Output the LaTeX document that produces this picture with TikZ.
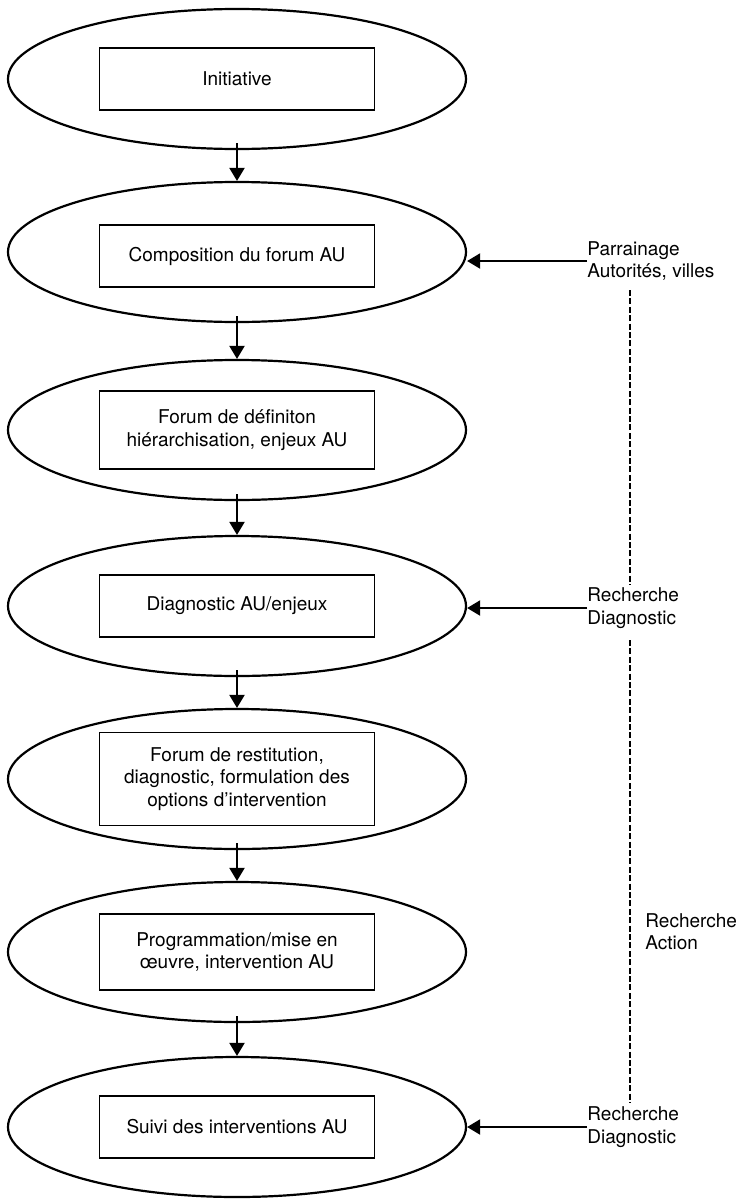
\documentclass[tikz,border=0pt]{standalone}
\usepackage{fontspec}
\setmainfont{TeX Gyre Heros}
\usetikzlibrary{shapes.geometric,arrows.meta}
\begin{document}
\begin{tikzpicture}[x=0.5pt,y=-0.5pt,
  font=\fontsize{9.5}{11.2}\selectfont,
  etape/.style={ellipse,draw,line width=1.1pt,minimum width=229pt,minimum height=70pt,inner sep=0pt},
  cadre/.style={rectangle,draw,line width=0.8pt,minimum width=137.5pt,minimum height=31pt,align=center},
  fleche/.style={line width=1pt,-{Triangle[length=6.5pt,width=7.5pt]}},
  appui/.style={anchor=west,align=left,inner sep=0pt},
  tirets/.style={line width=0.9pt,dash pattern=on 3pt off 1.2pt}]
  \useasboundingbox (0,0) rectangle (740,1199);
  % les etapes
  \node[etape] (e1) at (237,79) {};
  \node[etape] (e2) at (237,252) {};
  \node[etape] (e3) at (237,430) {};
  \node[etape] (e4) at (237,606) {};
  \node[etape] (e5) at (237,779) {};
  \node[etape] (e6) at (237,952) {};
  \node[etape] (e7) at (237,1127) {};
  \node[cadre] (c1) at (e1) {Initiative};
  \node[cadre] (c2) at ([yshift=-2pt]e2) {Composition du forum AU};
  \node[cadre,minimum height=39pt] (c3) at (e3) {Forum de définiton\\hiérarchisation, enjeux AU};
  \node[cadre] (c4) at (e4) {Diagnostic AU/enjeux};
  \node[cadre,minimum height=46.5pt] (c5) at (e5) {Forum de restitution,\\diagnostic, formulation des\\options d’intervention};
  \node[cadre,minimum height=38pt] (c6) at (e6) {Programmation/mise en\\œuvre, intervention AU};
  \node[cadre] (c7) at (e7) {Suivi des interventions AU};
  \draw[fleche] ([yshift=3.5pt]e1.south) -- (e2.north);
  \draw[fleche] ([yshift=3.5pt]e2.south) -- (e3.north);
  \draw[fleche] ([yshift=3.5pt]e3.south) -- (e4.north);
  \draw[fleche] ([yshift=3.5pt]e4.south) -- (e5.north);
  \draw[fleche] ([yshift=3.5pt]e5.south) -- (e6.north);
  \draw[fleche] ([yshift=3.5pt]e6.south) -- (e7.north);
  % appuis exterieurs
  \node[appui] (p1) at (587,261) {Parrainage\\Autorités, villes};
  \node[appui] (r1) at (587,608) {Recherche\\Diagnostic};
  \node[appui] (r2) at (587,1127) {Recherche\\Diagnostic};
  \node[appui] (ra) at (645,932) {Recherche\\Action};
  \draw[fleche] (p1.west) -- (p1.west -| e2.east);
  \draw[fleche] (r1.west) -- (r1.west -| e4.east);
  \draw[fleche] (r2.west) -- (r2.west -| e7.east);
  \coordinate (d1) at (630,290);
  \coordinate (d2) at (630,585);
  \coordinate (d3) at (630,640);
  \coordinate (d4) at (630,1103);
  \draw[tirets] (d1) -- (d2);
  \draw[tirets] (d3) -- (d4);
\end{tikzpicture}
\end{document}
